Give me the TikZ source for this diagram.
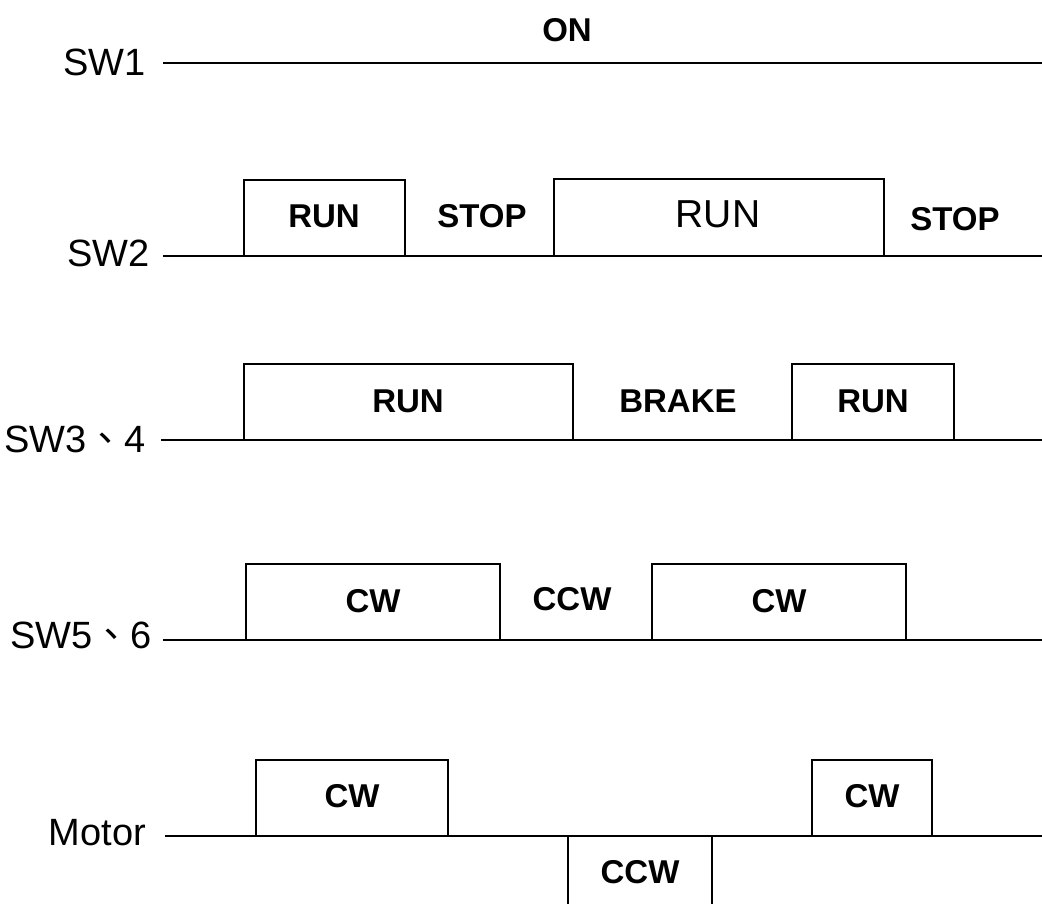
\documentclass[tikz,border=0pt]{standalone}
\usepackage{fontspec}
\setmainfont{Liberation Sans}
\newfontfamily\cjk{Noto Sans CJK TC}
\begin{document}
\begin{tikzpicture}[x=1pt,y=-1pt,
  wire/.style={line width=2pt},
  pulse/.style={line width=2pt},
  siglabel/.style={anchor=base east,inner sep=0pt,font=\fontsize{38}{40}\selectfont},
  boldlabel/.style={anchor=base,inner sep=0pt,font=\fontsize{33}{35}\selectfont\bfseries},
  plainlabel/.style={anchor=base,inner sep=0pt,font=\fontsize{39}{41}\selectfont}]
\useasboundingbox (0,0) rectangle (1042,904);

% signal names
\node[siglabel] (n1) at (146,76) {SW1};
\node[siglabel] (n2) at (150,267) {SW2};
\node[siglabel] (n3) at (146,452) {SW3{\cjk 、}4};
\node[siglabel] (n4) at (152,648) {SW5{\cjk 、}6};
\node[siglabel] (n5) at (146,845) {Motor};

% base lines
\coordinate (s1) at (163,63);  \coordinate (e1) at (1042,63);
\coordinate (s2) at (163,256); \coordinate (e2) at (1042,256);
\coordinate (s3) at (161,440); \coordinate (e3) at (1042,440);
\coordinate (s4) at (163,640); \coordinate (e4) at (1042,640);
\coordinate (s5) at (165,836); \coordinate (e5) at (1042,836);
\draw[wire] (s1) -- (e1);
\draw[wire] (s2) -- (e2);
\draw[wire] (s3) -- (e3);
\draw[wire] (s4) -- (e4);
\draw[wire] (s5) -- (e5);

% pulses
\draw[pulse] (244,256) -- (244,180) -- (405,180) -- (405,256);
\draw[pulse] (554,256) -- (554,179) -- (884,179) -- (884,256);
\draw[pulse] (244,440) -- (244,364) -- (573,364) -- (573,440);
\draw[pulse] (792,440) -- (792,364) -- (954,364) -- (954,440);
\draw[pulse] (246,640) -- (246,564) -- (500,564) -- (500,640);
\draw[pulse] (652,640) -- (652,564) -- (906,564) -- (906,640);
\draw[pulse] (256,836) -- (256,760) -- (448,760) -- (448,836);
\draw[pulse] (812,836) -- (812,760) -- (932,760) -- (932,836);
\draw[pulse] (568,906) -- (568,836) -- (712,836) -- (712,906);

% state labels
\node[boldlabel] (on) at (567,42) {ON};
\node[boldlabel] (r21) at (324,228) {RUN};
\node[boldlabel] (st1) at (482,228) {STOP};
\node[plainlabel] (r22) at (718,228) {RUN};
\node[boldlabel] (st2) at (955,231) {STOP};
\node[boldlabel] (r31) at (408,412) {RUN};
\node[boldlabel] (br) at (678,412) {BRAKE};
\node[boldlabel] (r32) at (873,412) {RUN};
\node[boldlabel] (cw41) at (373,612) {CW};
\node[boldlabel] (ccw4) at (572,610) {CCW};
\node[boldlabel] (cw42) at (779,612) {CW};
\node[boldlabel] (cw51) at (352,807) {CW};
\node[boldlabel] (cw52) at (872,807) {CW};
\node[boldlabel] (ccw5) at (640,883) {CCW};
\end{tikzpicture}
\end{document}
